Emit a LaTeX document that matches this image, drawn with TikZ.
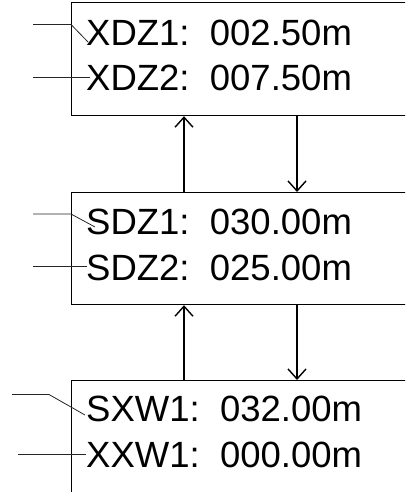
\documentclass[tikz,border=0pt]{standalone}
\usepackage{fontspec}
\setmainfont{Liberation Sans}
\usetikzlibrary{arrows.meta,calc}
\begin{document}
\begin{tikzpicture}[x=1pt,y=-1pt,
  panel/.style={draw=black,line width=1.2pt,rectangle,anchor=north west,inner sep=0pt,minimum width=360pt},
  readout/.style={anchor=base west,inner sep=0pt,font=\fontsize{36.5}{44}\selectfont},
  leader/.style={draw=black!85,line width=0.8pt},
  flow/.style={draw=black,line width=1.4pt,-{Straight Barb[length=10pt,width=18pt,line width=1.4pt]}}
]
\useasboundingbox (0,0) rectangle (405,492);
\clip (0,0) rectangle (405,492);
% panels
\node[panel,minimum height=113pt] (top) at (71,2) {};
\node[panel,minimum height=112pt] (mid) at (71,192) {};
\node[panel,minimum height=130pt] (bot) at (71,380) {};
% texts
\node[readout] (t1) at (86,46) {XDZ1:\ \ 002.50m};
\node[readout] (t2) at (86,91) {XDZ2:\ \ 007.50m};
\node[readout] (m1) at (86,234) {SDZ1:\ \ 030.00m};
\node[readout] (m2) at (86,280) {SDZ2:\ \ 025.00m};
\node[readout] (b1) at (86,421) {SXW1:\ \ 032.00m};
\node[readout] (b2) at (86,467) {XXW1:\ \ 000.00m};
% leader coordinates
\coordinate (a1) at (33,24.5);  \coordinate (a1k) at (71,24.5); \coordinate (a1e) at (88,42);
\coordinate (a2) at (33,77.5);  \coordinate (a2e) at (90,77.5);
\coordinate (c1) at (33,214);   \coordinate (c1k) at (71,214);  \coordinate (c1e) at (95,227);
\coordinate (c2) at (33,266);   \coordinate (c2e) at (87,266);
\coordinate (e1) at (12,394.5); \coordinate (e1k) at (49,394.5); \coordinate (e1e) at (85,415);
\coordinate (e2) at (18,454);   \coordinate (e2e) at (86,454);
\draw[leader] (a1) -- (a1k) -- (a1e);
\draw[leader] (a2) -- (a2e);
\draw[leader] (c1) -- (c1k) -- (c1e);
\draw[leader] (c2) -- (c2e);
\draw[leader] (e1) -- (e1k) -- (e1e);
\draw[leader] (e2) -- (e2e);
% flows
\draw[flow] ($(mid.north west)+(113,0)$) -- ($(top.south west)+(113,0)$);
\draw[flow] ($(top.south west)+(226,0)$) -- ($(mid.north west)+(226,0)$);
\draw[flow] ($(bot.north west)+(113,0)$) -- ($(mid.south west)+(113,0)$);
\draw[flow] ($(mid.south west)+(226,0)$) -- ($(bot.north west)+(226,0)$);
\end{tikzpicture}
\end{document}
